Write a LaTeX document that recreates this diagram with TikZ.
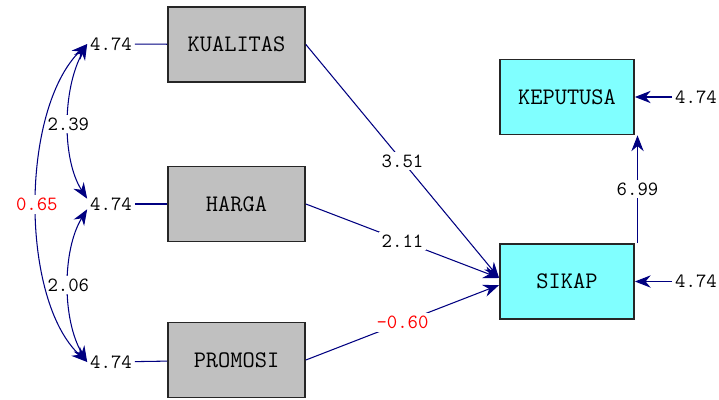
\documentclass[tikz,border=0pt]{standalone}
\usepackage{fontspec}
\usetikzlibrary{arrows.meta}
\definecolor{garis}{RGB}{0,0,128}
\definecolor{abu}{RGB}{192,192,192}
\definecolor{sian}{RGB}{128,255,255}

\begin{document}
\begin{tikzpicture}[x=0.02cm, y=-0.02cm,
    kotak/.style={draw=black!85, line width=1pt, minimum width=2.74cm, minimum height=1.5cm, font=\ttfamily\fontsize{13.5}{15}\selectfont},
    eksogen/.style={kotak, fill=abu},
    endogen/.style={kotak, fill=sian, minimum width=2.68cm},
    angka/.style={font=\ttfamily\fontsize{11.5}{13}\selectfont, inner sep=1.5pt},
    garisbiasa/.style={draw=garis, line width=0.6pt},
    jalur/.style={garisbiasa, -{Stealth[length=9pt,width=7pt]}},
    kov/.style={garisbiasa, {Stealth[length=9pt,width=7pt]}-{Stealth[length=9pt,width=7pt]}}]

    \useasboundingbox (0,0) rectangle (719,399);

    % Variabel eksogen
    \node[eksogen] (kua) at (236.5,44.5) {KUALITAS};
    \node[eksogen] (har) at (236.5,204) {HARGA};
    \node[eksogen] (pro) at (236.5,360) {PROMOSI};

    % Variabel endogen
    \node[endogen] (kep) at (567,97) {KEPUTUSA};
    \node[endogen] (sik) at (567,281.5) {SIKAP};

    % Varians eksogen
    \node[angka] (v1) at (111,44) {4.74};
    \node[angka] (v2) at (111,204) {4.74};
    \node[angka] (v3) at (111,362) {4.74};
    \draw[garisbiasa] (v1) -- (kua);
    \draw[garisbiasa] (v2) -- (har);
    \draw[garisbiasa] (v3) -- (pro);

    % Kovarians
    \draw[kov] (v1.west) .. controls (62,90) and (62,160) .. node[angka, fill=white] {2.39} ([yshift=3pt]v2.west);
    \draw[kov] ([yshift=-3pt]v2.west) .. controls (62,250) and (62,320) .. node[angka, fill=white] {2.06} (v3.west);
    \draw[kov] (v1.west) .. controls (20,110) and (20,300) .. node[angka, fill=white, text=red] {0.65} (v3.west);

    % Jalur ke SIKAP
    \draw[jalur] (kua.east) -- node[angka, fill=white] {3.51} ([yshift=2pt]sik.west);
    \draw[jalur] (har.east) -- node[angka, fill=white] {2.11} ([yshift=2pt]sik.west);
    \draw[jalur] (pro.east) -- node[angka, fill=white, text=red] {-0.60} ([yshift=-2pt]sik.west);

    % Jalur ke KEPUTUSA
    \draw[jalur] ([xshift=1.5pt]sik.north east) -- node[angka, fill=white] {6.99} ([xshift=1.5pt]kep.south east);

    % Residual endogen
    \node[angka] (r1) at (696,97) {4.74};
    \node[angka] (r2) at (696,281.5) {4.74};
    \draw[jalur] (r1) -- (kep);
    \draw[jalur] (r2) -- (sik);
\end{tikzpicture}
\end{document}
